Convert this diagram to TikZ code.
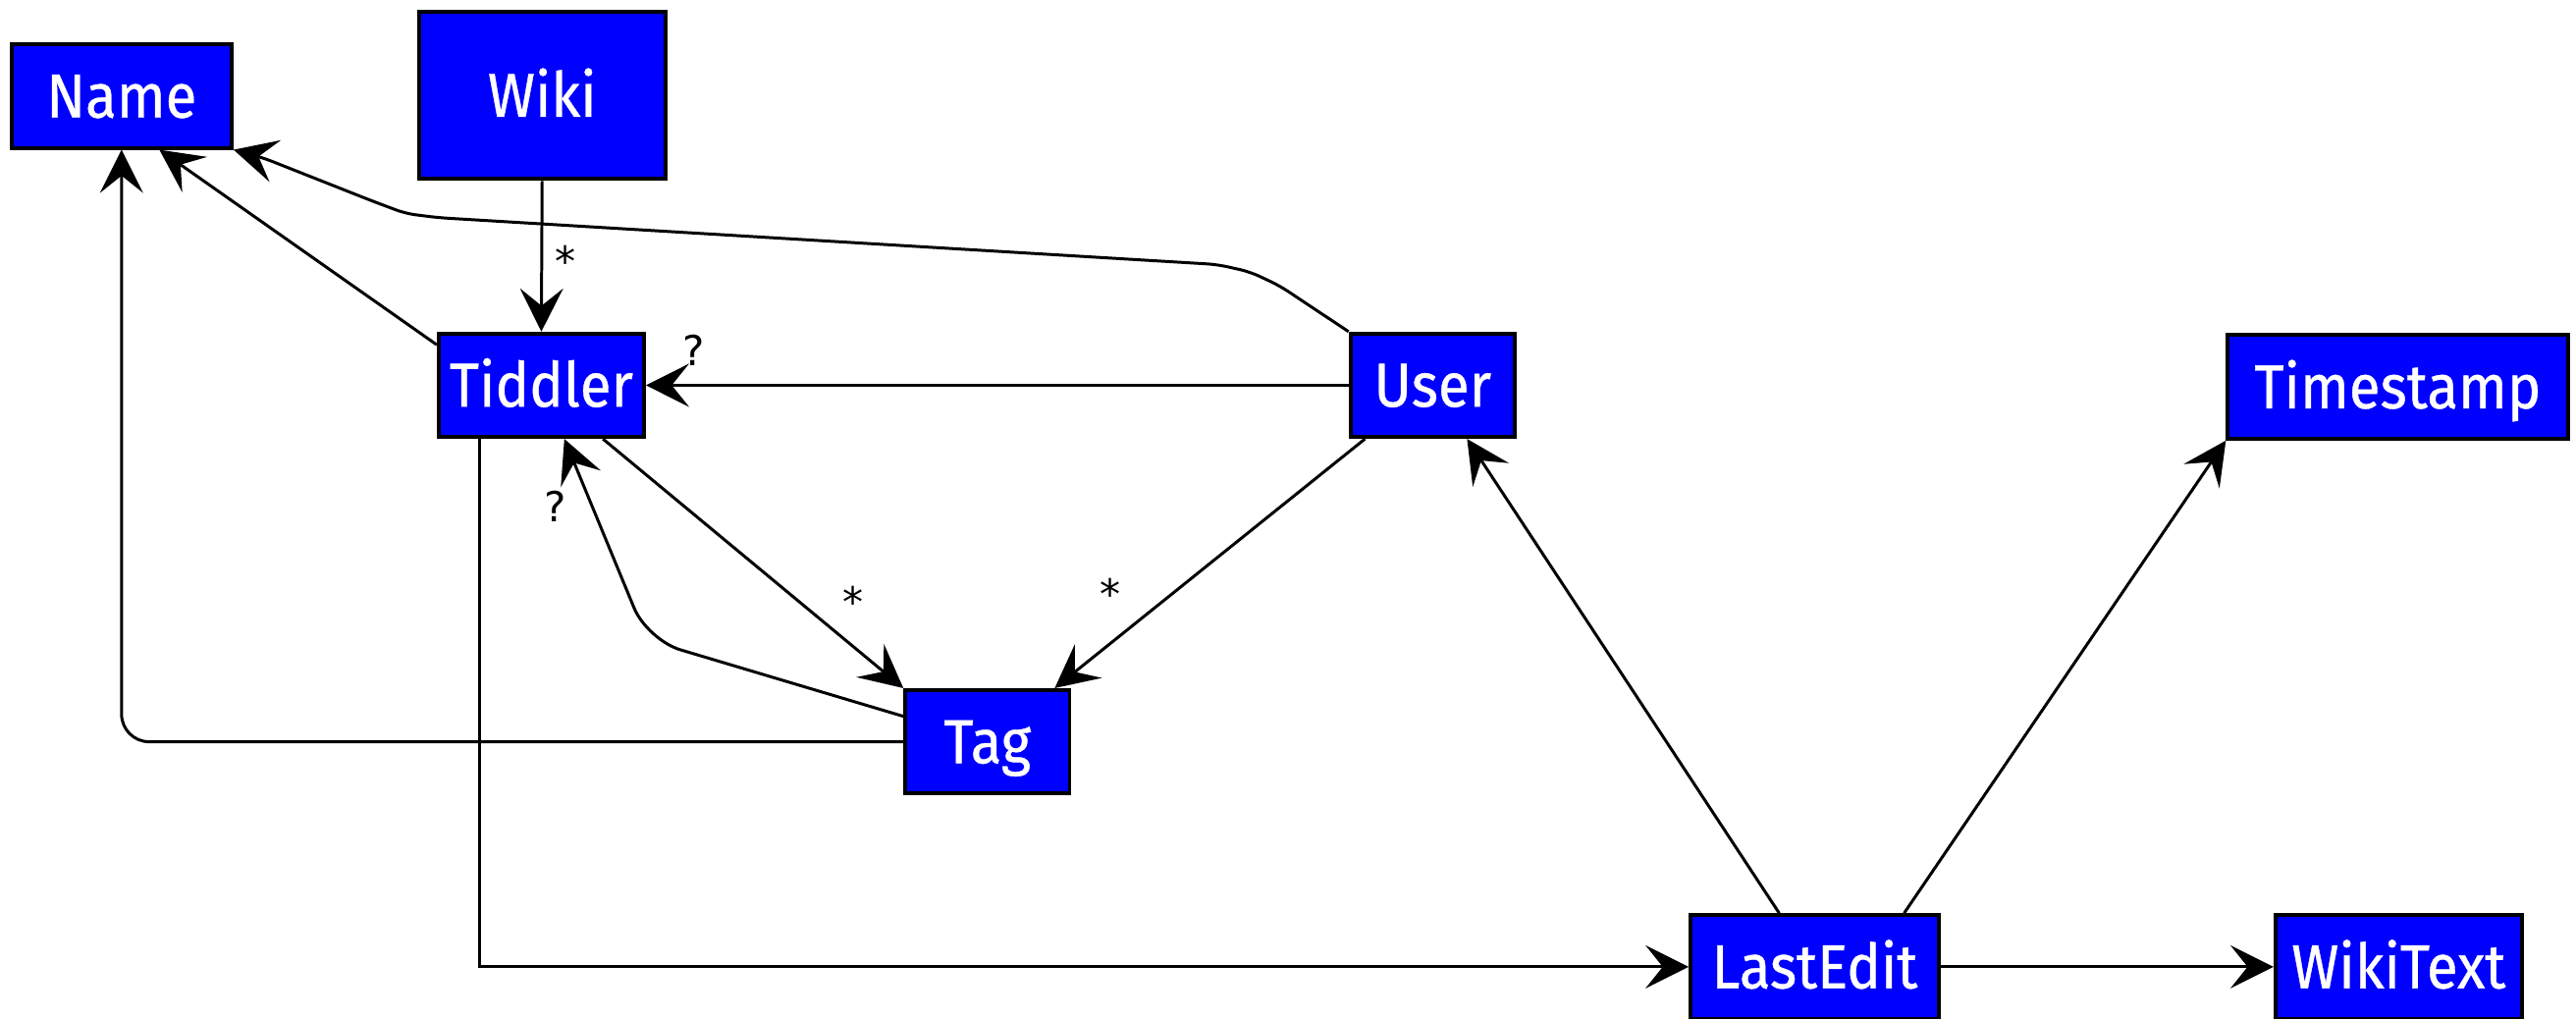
\documentclass[tikz,border=0pt]{standalone}
\usepackage{fontspec}
\setmainfont{Fira Sans}
\newfontfamily\boxfont[FakeStretch=0.92,FakeBold=0.6]{Fira Sans}
\newfontfamily\lblfont{DejaVu Sans}
\usetikzlibrary{arrows.meta,calc}
\begin{document}
\begin{tikzpicture}[x=0.016735cm, y=-0.016735cm,
  ent/.style={draw=black, line width=1.1pt, fill=blue, text=white, inner sep=0pt,
    minimum height=63*0.4762pt, font=\boxfont\fontsize{18}{20}\selectfont,
    text height=12.4pt, text depth=0pt},
  conn/.style={draw=black, line width=0.85pt, -{Stealth[length=12.5pt,width=12.5pt,inset=5pt]}},
  lbl/.style={font=\lblfont\fontsize{12}{14}\selectfont, inner sep=0pt}
]
\useasboundingbox (0,0) rectangle (1568,620);

\node[ent, minimum width=134*0.4762pt] (Name) at (74,58.5) {Name};
\node[ent, minimum width=150*0.4762pt, minimum height=102*0.4762pt] (Wiki) at (330,58) {Wiki};
\node[ent, minimum width=125*0.4762pt] (Tiddler) at (329.5,234.5) {Tiddler};
\node[ent, minimum width=100*0.4762pt] (User) at (872,234.5) {User};
\node[ent, minimum width=207*0.4762pt] (Timestamp) at (1459.5,235.5) {Timestamp};
\node[ent, minimum width=100*0.4762pt] (Tag) at (601,451.5) {Tag};
\node[ent, minimum width=151*0.4762pt] (LastEdit) at (1104.5,588.5) {LastEdit};
\node[ent, minimum width=150*0.4762pt] (WikiText) at (1460,588.5) {WikiText};

\coordinate (u1) at (779,174);
\coordinate (u2) at (761,165.5);
\coordinate (u3) at (741,161);
\coordinate (u4) at (267,132.5);
\coordinate (u5) at (247,130);
\coordinate (u6) at (227,122.5);
\coordinate (u7) at (160,96);
\coordinate (t1) at (394,389.5);

\draw[conn] (Wiki.south) -- (Tiddler.north);
\draw[conn] (User.west) -- (Tiddler.east);
\draw[conn] ($(Tiddler.south)+(37.5,0)$) -- (Tag.north west);
\draw[conn] ($(User.south west)+(10,0)$) -- ($(Tag.north)+(41,0)$);
\draw[conn, rounded corners=3pt] (User.north west) -- (u1) -- (u2) -- (u3) -- (u4) -- (u5) -- (u6) -- (u7) -- (Name.south east);
\draw[conn] ($(Tiddler.north west)+(0,8)$) -- ($(Name.south)+(23,0)$);
\draw[conn, rounded corners=8pt] (Tag.west) -| (Name.south);
\draw[conn, rounded corners=10pt] ($(Tag.west)+(0,-15.5)$) -- (t1) -- ($(Tiddler.south)+(14,0)$);
\draw[conn] ($(Tiddler.south)+(-37.5,0)$) |- (LastEdit.west);
\draw[conn] ($(LastEdit.north)+(-21.5,0)$) -- ($(User.south)+(21,0)$);
\draw[conn] ($(LastEdit.north)+(54.5,0)$) -- (Timestamp.south west);
\draw[conn] (LastEdit.east) -- (WikiText.west);

\node[lbl] (s1) at (344,159) {*};
\node[lbl] (s2) at (519,366.5) {*};
\node[lbl] (s3) at (676,361.5) {*};
\node[lbl] (q1) at (422,213) {?};
\node[lbl] (q2) at (338,308) {?};
\end{tikzpicture}
\end{document}
